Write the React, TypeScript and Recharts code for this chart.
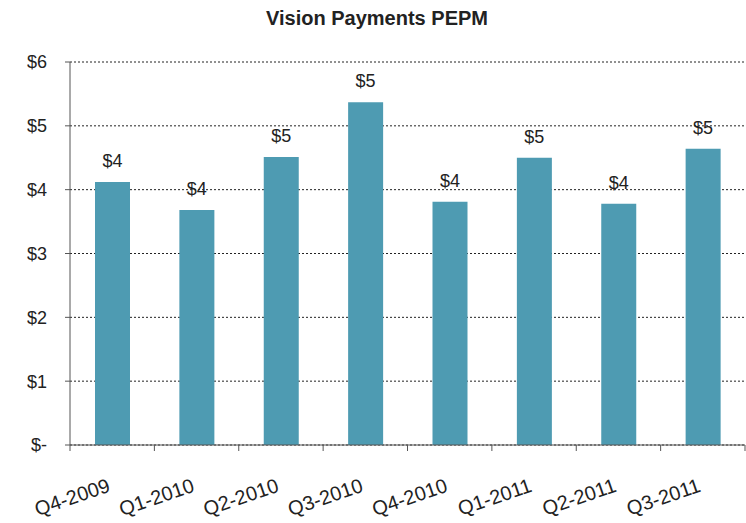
import { BarChart, Bar, XAxis, YAxis, CartesianGrid, LabelList } from "recharts"

const quarters = ["Q4-2009", "Q1-2010", "Q2-2010", "Q3-2010", "Q4-2010", "Q1-2011", "Q2-2011", "Q3-2011"]
const pepm = [4.12, 3.68, 4.51, 5.37, 3.81, 4.5, 3.78, 4.64]
const yTicks = [0, 1, 2, 3, 4, 5, 6]

const data = quarters.map((q, i) => ({ quarter: q, pepm: pepm[i] }))

const font = "'Liberation Sans', Arial, sans-serif"
const BAND = 675 / quarters.length

function money(v: number) {
  return v === 0 ? "$-" : "$" + Math.round(v)
}

function QuarterTick(props: any) {
  const { x, y, payload, index } = props
  const axisY = y - 8
  const tx = x - 1
  const ty = y + 38
  return (
    <g>
      {index === 0 && <line x1={x - BAND / 2} y1={axisY} x2={x - BAND / 2} y2={axisY + 6} stroke="#555" />}
      <line x1={x + BAND / 2} y1={axisY} x2={x + BAND / 2} y2={axisY + 6} stroke="#555" />
      <text
        x={tx}
        y={ty}
        textAnchor="end"
        fontSize={20}
        fill="#222"
        fontFamily={font}
        transform={`rotate(-19, ${tx}, ${ty})`}
      >
        {payload.value}
      </text>
    </g>
  )
}

export default function App() {
  return (
    <div style={{ position: "fixed", left: 0, top: 0, width: 746, height: 523, background: "#fff" }}>
      <div
        style={{
          position: "absolute",
          top: 7,
          left: 4,
          width: 746,
          textAlign: "center",
          fontFamily: font,
          fontWeight: "bold",
          fontSize: 20,
          color: "#222",
        }}
      >
        Vision Payments PEPM
      </div>
      <BarChart width={746} height={523} data={data} margin={{ top: 62, right: 1, left: 0, bottom: 8 }}>
        <CartesianGrid vertical={false} stroke="#222" strokeDasharray="2 2" />
        <XAxis
          dataKey="quarter"
          height={70}
          tickLine={false}
          axisLine={{ stroke: "#555" }}
          tick={<QuarterTick />}
          interval={0}
        />
        <YAxis
          width={70}
          domain={[0, 6]}
          ticks={yTicks}
          tickFormatter={money}
          axisLine={{ stroke: "#555" }}
          tickLine={{ stroke: "#555" }}
          tickSize={5}
          tickMargin={18}
          tick={{ fontSize: 18, fill: "#222", fontFamily: font }}
        />
        <Bar dataKey="pepm" fill="#4e9bb2" barSize={35} isAnimationActive={false}>
          <LabelList
            dataKey="pepm"
            position="top"
            offset={15}
            formatter={(v: any) => money(Number(v))}
            style={{ fontSize: 18, fill: "#222", fontFamily: font }}
          />
        </Bar>
      </BarChart>
    </div>
  )
}
